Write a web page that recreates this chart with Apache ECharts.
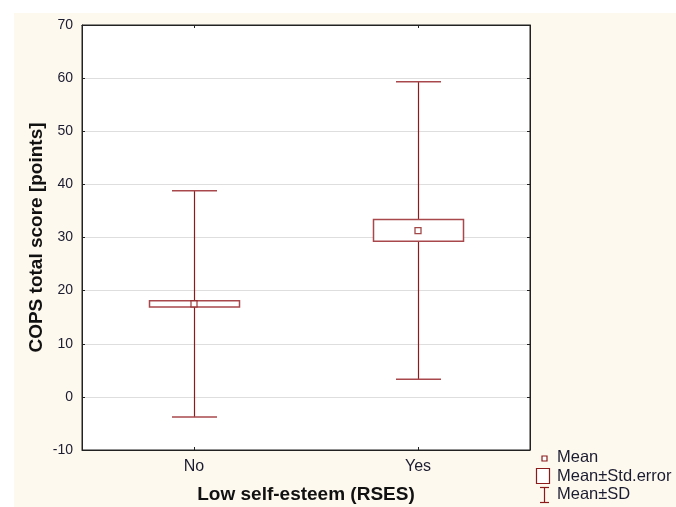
<!DOCTYPE html>
<html>
<head>
<meta charset="utf-8">
<script src="https://cdn.jsdelivr.net/npm/echarts@6/dist/echarts.min.js"></script>
<style>
html,body{margin:0;padding:0;background:#fff;}
#bg{position:absolute;left:14px;top:13px;width:662px;height:494px;background:#fef9ef;}
#chart{position:absolute;left:0;top:0;width:676px;height:507px;}
</style>
</head>
<body>
<div id="bg"></div>
<div id="chart"></div>
<script>
const categories = ['No', 'Yes'];
const means = [17.5, 31.3];
const seLow = [16.9, 29.3];
const seHigh = [18.1, 33.4];
const sdLow = [-3.8, 3.3];
const sdHigh = [38.8, 59.3];
const yTicks = { min: -10, max: 70, interval: 10 };

const dark = '#8b1a1a';
const boxColor = '#a8484c';
const txt = '#1c1c30';

const chart = echarts.init(document.getElementById('chart'), null, { renderer: 'canvas' });

const boxData = categories.map((c, i) => [i, seLow[i], seHigh[i], sdLow[i], sdHigh[i]]);

const option = {
  backgroundColor: 'transparent',
  animation: false,
  grid: { left: 82, top: 25, right: 146, bottom: 57, show: true, backgroundColor: '#ffffff', borderColor: '#222', borderWidth: 1, containLabel: false, outerBoundsMode: 'none' },
  xAxis: [{
    type: 'category', data: categories, position: 'bottom',
    axisLine: { show: true, onZero: false, lineStyle: { color: '#222' } },
    axisTick: { show: true, inside: true, length: 3, alignWithLabel: true, lineStyle: { color: '#222' } },
    axisLabel: { color: txt, fontSize: 16, fontFamily: 'Liberation Sans', margin: 9 },
    name: 'Low self-esteem (RSES)', nameLocation: 'middle', nameGap: 35,
    nameTextStyle: { color: '#111', fontSize: 19, fontWeight: 'bold', fontFamily: 'Liberation Sans' }
  }, {
    type: 'category', data: categories, position: 'top',
    axisLine: { show: true, onZero: false, lineStyle: { color: '#222' } },
    axisTick: { show: true, inside: true, length: 3, alignWithLabel: true, lineStyle: { color: '#222' } },
    axisLabel: { show: false }
  }],
  yAxis: [{
    type: 'value', min: yTicks.min, max: yTicks.max, interval: yTicks.interval, position: 'left',
    axisLine: { show: true, onZero: false, lineStyle: { color: '#222' } },
    axisTick: { show: true, inside: true, length: 3, lineStyle: { color: '#222' } },
    axisLabel: { color: txt, fontSize: 14, fontFamily: 'Liberation Sans', margin: 9 },
    splitLine: { show: true, lineStyle: { color: '#dedede', width: 1 } },
    name: 'COPS total score [points]', nameLocation: 'middle', nameGap: 36, nameRotate: 90, nameMoveOverlap: false,
    nameTextStyle: { color: '#111', fontSize: 19, fontWeight: 'bold', fontFamily: 'Liberation Sans' }
  }, {
    type: 'value', min: yTicks.min, max: yTicks.max, interval: yTicks.interval, position: 'right',
    axisLine: { show: true, onZero: false, lineStyle: { color: '#222' } },
    axisTick: { show: true, inside: true, length: 3, lineStyle: { color: '#222' } },
    axisLabel: { show: false },
    splitLine: { show: false }
  }],
  series: [{
    type: 'custom',
    xAxisIndex: 0, yAxisIndex: 0,
    data: boxData,
    renderItem: function (params, api) {
      const x = api.value(0);
      const pLo = api.coord([x, api.value(1)]);
      const pHi = api.coord([x, api.value(2)]);
      const pSdLo = api.coord([x, api.value(3)]);
      const pSdHi = api.coord([x, api.value(4)]);
      const cx = Math.round(pLo[0]) + 0.5;
      const bw = 90, cw = 45;
      return {
        type: 'group',
        children: [
          { type: 'line', shape: { x1: cx, y1: pSdHi[1], x2: cx, y2: pHi[1] }, style: { stroke: dark, lineWidth: 1.2 } },
          { type: 'line', shape: { x1: cx, y1: pLo[1], x2: cx, y2: pSdLo[1] }, style: { stroke: dark, lineWidth: 1.2 } },
          { type: 'line', shape: { x1: cx - cw / 2, y1: pSdHi[1], x2: cx + cw / 2, y2: pSdHi[1] }, style: { stroke: boxColor, lineWidth: 1.5 } },
          { type: 'line', shape: { x1: cx - cw / 2, y1: pSdLo[1], x2: cx + cw / 2, y2: pSdLo[1] }, style: { stroke: boxColor, lineWidth: 1.5 } },
          { type: 'rect', shape: { x: cx - bw / 2, y: pHi[1], width: bw, height: pLo[1] - pHi[1] }, style: { fill: '#fff', stroke: boxColor, lineWidth: 1.5 } }
        ]
      };
    },
    z: 3
  }, {
    type: 'scatter',
    xAxisIndex: 0, yAxisIndex: 0,
    data: means.map((m, i) => [i, m]),
    symbol: 'rect', symbolSize: 6,
    itemStyle: { color: '#fff', borderColor: dark, borderWidth: 1.3 },
    z: 5
  }],
  graphic: [
    { type: 'rect', shape: { x: 542, y: 456, width: 5, height: 5 }, style: { fill: '#fff', stroke: dark, lineWidth: 1.2 } },
    { type: 'text', left: 557, top: 449, style: { text: 'Mean', fill: txt, fontSize: 16.5, fontFamily: 'Liberation Sans' } },
    { type: 'rect', shape: { x: 536.5, y: 468.5, width: 13, height: 15 }, style: { fill: '#fff', stroke: dark, lineWidth: 1.2 } },
    { type: 'text', left: 557, top: 468, style: { text: 'Mean±Std.error', fill: txt, fontSize: 16.5, fontFamily: 'Liberation Sans' } },
    { type: 'line', shape: { x1: 544.5, y1: 487.5, x2: 544.5, y2: 502.5 }, style: { stroke: dark, lineWidth: 1.2 } },
    { type: 'line', shape: { x1: 540, y1: 487.5, x2: 549, y2: 487.5 }, style: { stroke: dark, lineWidth: 1.2 } },
    { type: 'line', shape: { x1: 540, y1: 502.5, x2: 549, y2: 502.5 }, style: { stroke: dark, lineWidth: 1.2 } },
    { type: 'text', left: 557, top: 486, style: { text: 'Mean±SD', fill: txt, fontSize: 16.5, fontFamily: 'Liberation Sans' } }
  ]
};
chart.setOption(option);
</script>
</body>
</html>
